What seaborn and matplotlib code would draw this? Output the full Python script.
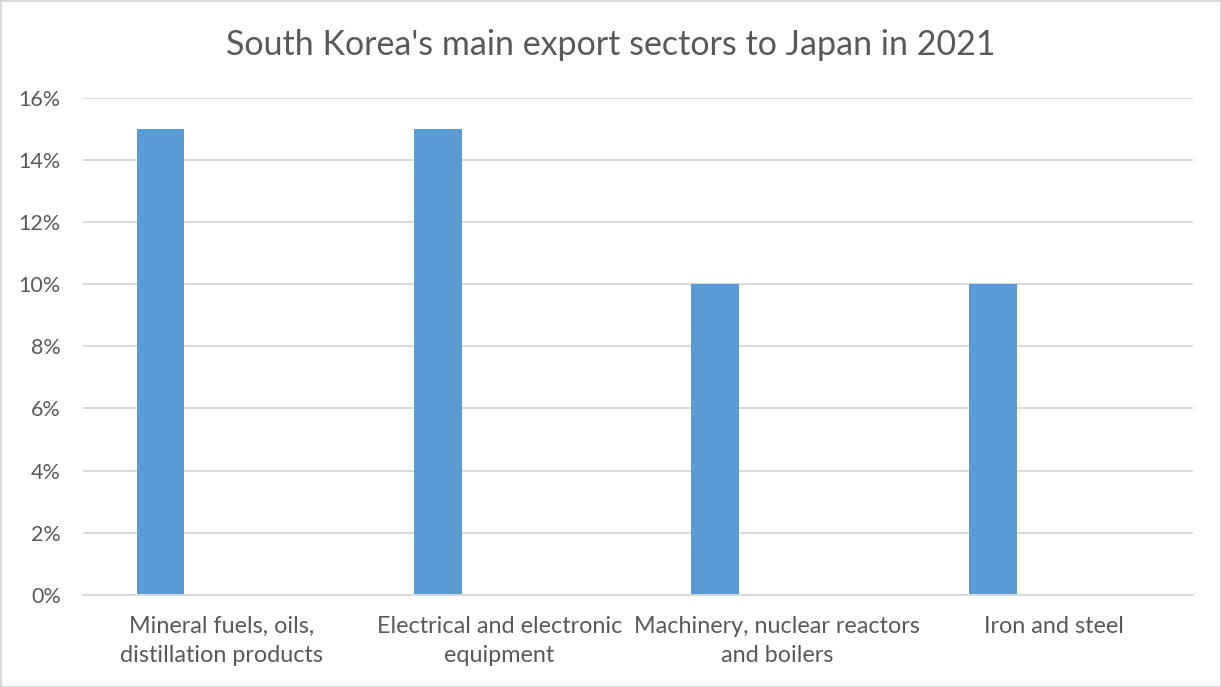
import numpy as np
import pandas as pd
import matplotlib
matplotlib.use("Agg")
import matplotlib.pyplot as plt
from matplotlib.ticker import PercentFormatter
import seaborn as sns

# Share of South Korea's exports to Japan, 2021
sectors = [
    "Mineral fuels, oils,\ndistillation products",
    "Electrical and electronic\nequipment",
    "Machinery, nuclear reactors\nand boilers",
    "Iron and steel",
]
share = [0.15, 0.15, 0.10, 0.10]
# second (empty) series keeps each column left of its category centre
series_names = ["Share", "Spare"]
spare = [np.nan, np.nan, np.nan, np.nan]

df = pd.DataFrame({
    "sector": sectors * 2,
    "value": share + spare,
    "series": [series_names[0]] * len(sectors) + [series_names[1]] * len(sectors),
})

sns.set_theme(style="white")
plt.rcParams["font.family"] = ["Lato", "DejaVu Sans"]

grey_text = "#595959"
fig = plt.figure(figsize=(12.21, 6.87), dpi=100)
fig.patch.set_edgecolor("#D9D9D9")
fig.patch.set_linewidth(2)
ax = fig.add_axes([0.068, 0.134, 0.909, 0.724])

sns.barplot(
    data=df, x="sector", y="value", hue="series", hue_order=series_names,
    order=sectors, palette=["#5B9BD5", "#ED7D31"], width=0.884, gap=0.61,
    dodge=True, errorbar=None, legend=False, linewidth=0, saturation=1, ax=ax,
)

ax.set_ylim(0, 0.16)
ax.set_yticks(np.arange(0, 0.161, 0.02))
ax.yaxis.set_major_formatter(PercentFormatter(1.0, decimals=0))
ax.grid(axis="y", color="#D9D9D9", linewidth=1.4)
ax.set_axisbelow(True)
for side in ["top", "right", "left"]:
    ax.spines[side].set_visible(False)
ax.spines["bottom"].set_color("#D9D9D9")
ax.spines["bottom"].set_linewidth(1.4)
ax.tick_params(axis="y", length=0, pad=16, labelsize=15.5, labelcolor=grey_text)
ax.tick_params(axis="x", length=0, pad=15, labelsize=16.8, labelcolor=grey_text)
for lbl in ax.get_xticklabels():
    lbl.set_linespacing(1.5)
ax.set_xlabel("")
ax.set_ylabel("")
ax.set_xlim(-0.5, len(sectors) - 0.5)

fig.text(0.5, 0.934, "South Korea's main export sectors to Japan in 2021",
         ha="center", va="center", fontsize=24.5, color=grey_text)

fig.savefig("out.png", dpi=100)
